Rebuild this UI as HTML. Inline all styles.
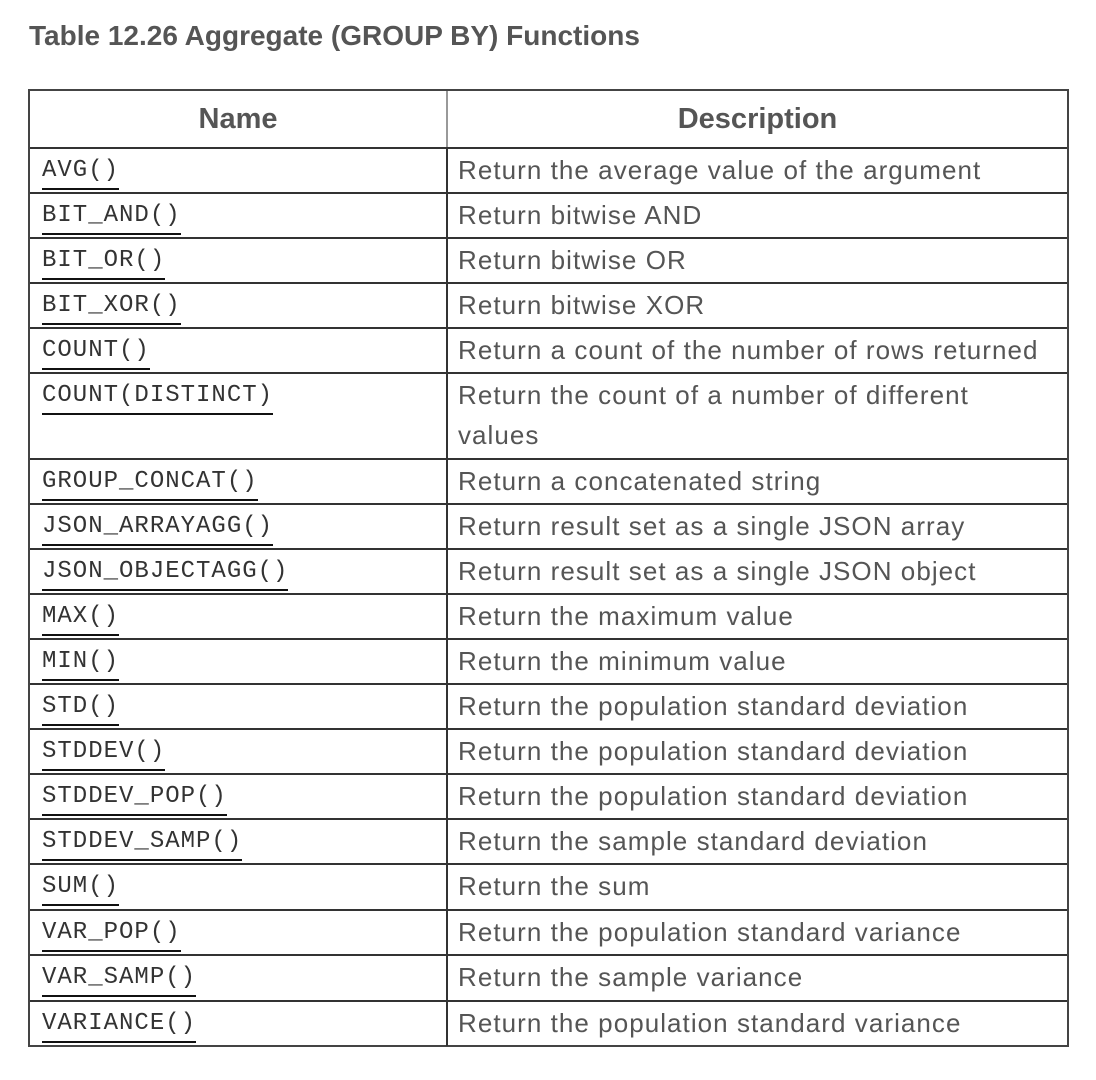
<!DOCTYPE html>
<html><head><meta charset="utf-8">
<style>
body{margin:0;width:1096px;height:1080px;background:#fff;position:relative;overflow:hidden;font-family:"Liberation Sans",sans-serif;}
#title{position:absolute;left:29px;top:20px;font-weight:bold;font-size:28px;color:#555;white-space:nowrap;}
#tbl{position:absolute;left:28px;top:89px;width:1041px;height:958px;box-sizing:border-box;border:2px solid #444;}
.hdr{position:absolute;top:0;height:56px;font-weight:bold;font-size:29px;color:#555;text-align:center;line-height:56px;}
.row{position:absolute;left:0;width:1037px;box-sizing:border-box;border-top:2px solid #333;}
.vline{position:absolute;left:416px;width:2px;background:#333;top:0;bottom:0;}
.hv{position:absolute;left:416px;width:2px;background:#999;top:0;height:56px;}
.code{position:absolute;left:12px;top:8px;font-family:"Liberation Mono",monospace;font-size:24px;letter-spacing:1px;color:#333;line-height:28px;border-bottom:2px solid #111;padding-bottom:3px;white-space:nowrap;}
.desc{position:absolute;left:428px;top:1px;font-size:26px;letter-spacing:1.05px;color:#555;line-height:40px;width:592px;}
</style></head><body>
<div id="title">Table 12.26 Aggregate (GROUP BY) Functions</div>
<div id="tbl">
<div class="hdr" style="left:0;width:416px">Name</div>
<div class="hdr" style="left:418px;width:619px">Description</div>
<div class="hv"></div>
<div id="rows"></div>
</div>
<script>
const names=["AVG()","BIT_AND()","BIT_OR()","BIT_XOR()","COUNT()","COUNT(DISTINCT)","GROUP_CONCAT()","JSON_ARRAYAGG()","JSON_OBJECTAGG()","MAX()","MIN()","STD()","STDDEV()","STDDEV_POP()","STDDEV_SAMP()","SUM()","VAR_POP()","VAR_SAMP()","VARIANCE()"];
const descs=["Return the average value of the argument","Return bitwise AND","Return bitwise OR","Return bitwise XOR","Return a count of the number of rows returned","Return the count of a number of different values","Return a concatenated string","Return result set as a single JSON array","Return result set as a single JSON object","Return the maximum value","Return the minimum value","Return the population standard deviation","Return the population standard deviation","Return the population standard deviation","Return the sample standard deviation","Return the sum","Return the population standard variance","Return the sample variance","Return the population standard variance"];
const bounds=[147,192,237,282,327,372,458,503,548,593,638,683,728,773,818,863,909,954,1000,1046];
const c=document.getElementById('rows');
for(let i=0;i<names.length;i++){
  const r=document.createElement('div');
  r.className='row';
  
  
  r.style.top=(bounds[i]-91)+'px';
  r.style.height=(bounds[i+1]-bounds[i])+'px';
  const v=document.createElement('div');v.className='vline';r.appendChild(v);
  const a=document.createElement('span');a.className='code';a.textContent=names[i];
  
  
  r.appendChild(a);
  const d=document.createElement('div');d.className='desc';d.textContent=descs[i];
  
  
  r.appendChild(d);
  c.appendChild(r);
}
</script>
</body></html>
